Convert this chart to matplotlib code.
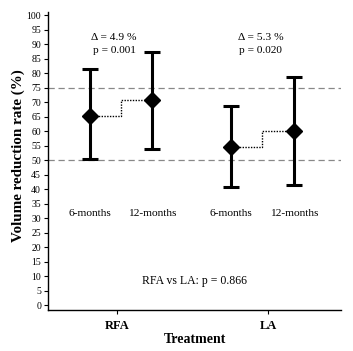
import matplotlib
matplotlib.use('Agg')
import matplotlib.pyplot as plt

plt.rcParams['font.family'] = ['Liberation Serif', 'DejaVu Serif']

groups = ['RFA', 'LA']
group_pos = [1, 2]
timepoints = ['6-months', '12-months']
# x positions of the points, per group (6-months, 12-months)
point_x = [[0.82, 1.23], [1.755, 2.17]]
means = [[65.3, 70.8], [54.6, 60.0]]
upper = [[81.5, 87.2], [68.6, 78.7]]
lower = [[50.4, 53.8], [40.6, 41.4]]
delta_txt = ['\u0394 = 4.9 %\np = 0.001', '\u0394 = 5.3 %\np = 0.020']
delta_x = [0.98, 1.95]
compare_txt = 'RFA vs LA: p = 0.866'
ref_lines = [75, 50]

fig = plt.figure(figsize=(3.53, 3.51), dpi=100)
ax = fig.add_axes([0.136, 0.117, 0.83, 0.848])

for y in ref_lines:
    ax.axhline(y, color='#888888', linestyle=(0, (5, 3)), linewidth=0.9, zorder=1)

for g in range(2):
    xs = point_x[g]
    ms = means[g]
    # dotted step connector between the two timepoints
    ax.plot(xs, ms, drawstyle='steps-mid', color='black', linestyle=(0, (1.0, 1.0)),
            linewidth=1.0, zorder=2)
    for i in range(2):
        ax.errorbar(xs[i], ms[i],
                    yerr=[[ms[i] - lower[g][i]], [upper[g][i] - ms[i]]],
                    fmt='D', color='black', markersize=8, elinewidth=2.2,
                    capsize=5.5, capthick=2.2, zorder=3)
        ax.text(xs[i], 31.7, timepoints[i], ha='center', va='center', fontsize=8.2)
    ax.text(delta_x[g], 90.0, delta_txt[g],
            ha='center', va='center', fontsize=8.2, linespacing=1.55)

ax.text(1.51, 8.3, compare_txt, ha='center', va='center', fontsize=8.5)

ax.set_xlim(0.543, 2.483)
ax.set_ylim(-1.7, 101)
ax.set_yticks(range(0, 101, 5))
ax.set_xticks(group_pos)
ax.set_xticklabels(groups, fontweight='bold', fontsize=9)
ax.tick_params(axis='y', labelsize=7, length=3, width=0.8, pad=2)
ax.tick_params(axis='x', length=3, width=0.8, pad=4)
ax.spines['top'].set_visible(False)
ax.spines['right'].set_visible(False)
ax.spines['left'].set_linewidth(1.0)
ax.spines['bottom'].set_linewidth(1.0)
ax.set_ylabel('Volume reduction rate (%)', fontweight='bold', fontsize=10.9)
ax.yaxis.set_label_coords(-0.078, 0.52)
ax.set_xlabel('Treatment', fontweight='bold', fontsize=10, labelpad=1)

fig.savefig('out.png', dpi=100)
